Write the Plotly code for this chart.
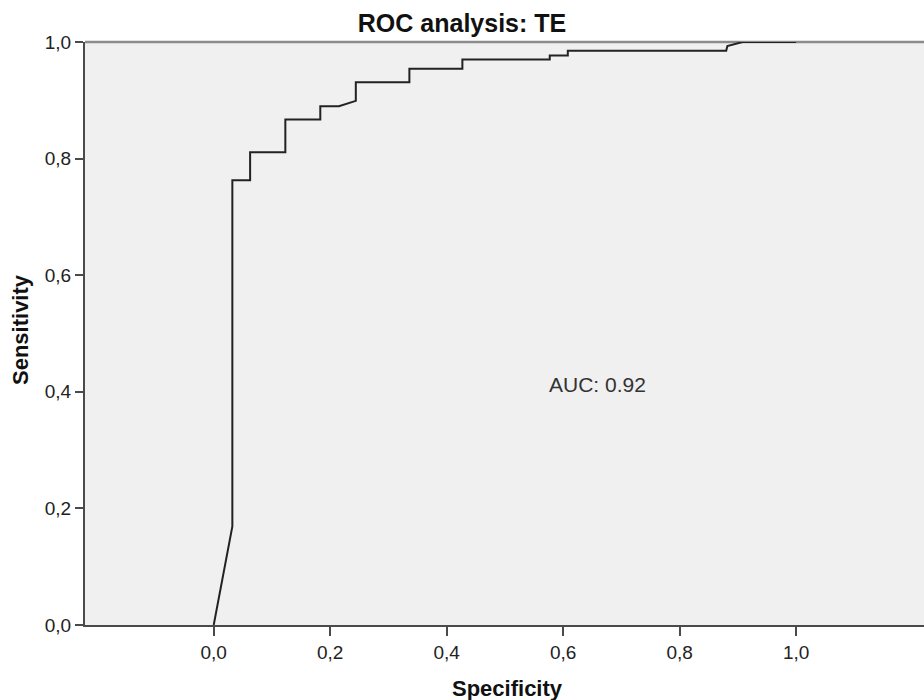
import plotly.graph_objects as go

# ROC curve data
specificity = [0.0, 0.032, 0.032, 0.0625, 0.0625, 0.123, 0.123, 0.183, 0.183, 0.215, 0.244, 0.244,
               0.336, 0.336, 0.427, 0.427, 0.577, 0.577, 0.608, 0.608, 0.880, 0.882, 0.908, 1.0]
sensitivity = [0.0, 0.169, 0.763, 0.763, 0.811, 0.811, 0.867, 0.867, 0.890, 0.890, 0.899, 0.931,
               0.931, 0.954, 0.954, 0.970, 0.970, 0.977, 0.977, 0.985, 0.985, 0.993, 1.0, 1.0]

x_tick_vals = [0.0, 0.2, 0.4, 0.6, 0.8, 1.0]
x_tick_text = ["0,0", "0,2", "0,4", "0,6", "0,8", "1,0"]
y_tick_vals = [0.0, 0.2, 0.4, 0.6, 0.8, 1.0]
y_tick_text = ["0,0", "0,2", "0,4", "0,6", "0,8", "1,0"]

auc_label = "AUC: 0.92"
title_text = "ROC analysis: TE"
x_title = "Specificity"
y_title = "Sensitivity"

FONT = "Liberation Sans, Arial, sans-serif"
W, H = 924, 700
L, R, T, B = 85, 0, 42, 75
PW, PH = W - L - R, H - T - B


def px_to_paper(px, py):
    return (px - L) / PW, (H - B - py) / PH


fig = go.Figure()
fig.add_trace(go.Scatter(
    x=specificity, y=sensitivity, mode="lines",
    line=dict(color="#222222", width=2),
    cliponaxis=False, showlegend=False, hoverinfo="skip",
))

fig.add_annotation(x=0.659, y=0.412, xref="x", yref="y", text=auc_label, showarrow=False,
                   font=dict(family=FONT, size=21, color="#333333"))

# axis titles
ax, ay = px_to_paper(507, 688)
fig.add_annotation(x=ax, y=ay, xref="paper", yref="paper", text="<b>" + x_title + "</b>",
                   showarrow=False, xanchor="center", yanchor="middle",
                   font=dict(family=FONT, size=22, color="#111111"))
ax, ay = px_to_paper(21, 330)
fig.add_annotation(x=ax, y=ay, xref="paper", yref="paper", text="<b>" + y_title + "</b>",
                   showarrow=False, xanchor="center", yanchor="middle", textangle=-90,
                   font=dict(family=FONT, size=22, color="#111111"))

# top border of plot area
fig.add_shape(type="line", xref="paper", yref="paper", x0=0, x1=1, y0=1.0, y1=1.0,
              line=dict(color="#8c8c8c", width=2.5), layer="below")

fig.update_layout(
    width=W, height=H,
    margin=dict(l=L, r=R, t=T, b=B),
    paper_bgcolor="white",
    plot_bgcolor="#f0f0f0",
    font=dict(family=FONT, color="#222222"),
    title=dict(text="<b>" + title_text + "</b>", x=462 / W, xanchor="center",
               y=1 - 23 / H, yanchor="middle", xref="container", yref="container",
               font=dict(family=FONT, size=25, color="#111111")),
    xaxis=dict(
        range=[-0.221, 1.2196], tickvals=x_tick_vals, ticktext=x_tick_text,
        showgrid=False, zeroline=False, showline=True, linecolor="#4a4a4a", linewidth=2,
        ticks="outside", ticklen=9, tickwidth=1.5, tickcolor="#4a4a4a",
        tickfont=dict(family=FONT, size=19, color="#222222"),
        fixedrange=True,
    ),
    yaxis=dict(
        range=[0, 1], tickvals=y_tick_vals, ticktext=y_tick_text,
        showgrid=False, zeroline=False, showline=True, linecolor="#4a4a4a", linewidth=2,
        ticks="outside", ticklen=8, tickwidth=1.5, tickcolor="#4a4a4a",
        tickfont=dict(family=FONT, size=19, color="#222222"),
        fixedrange=True,
    ),
)

fig.write_html("out.html")
